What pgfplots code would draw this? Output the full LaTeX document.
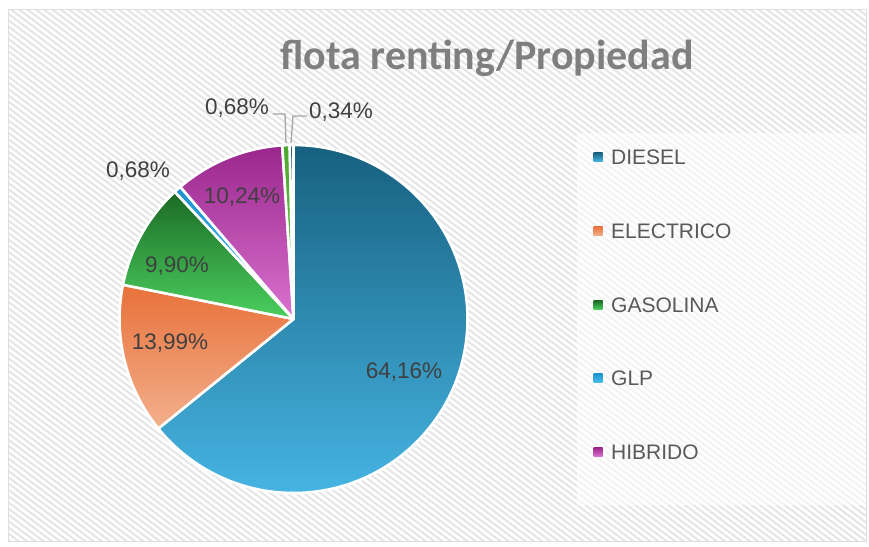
\documentclass[border=0pt]{standalone}
\usepackage{pgfplots}
\pgfplotsset{compat=1.18}
\usepackage{pgfplotstable}
\usetikzlibrary{patterns.meta}
\usepackage{fontspec}
\setmainfont{Liberation Sans}
\newfontfamily\titlefont{Carlito}

% slice colours: top / bottom of the gradient
\definecolor{t0}{HTML}{17607F}\definecolor{b0}{HTML}{46B4E2}
\definecolor{t1}{HTML}{E8713A}\definecolor{b1}{HTML}{F3B08D}
\definecolor{t2}{HTML}{1C6A25}\definecolor{b2}{HTML}{4BD05F}
\definecolor{t3}{HTML}{1C92CF}\definecolor{b3}{HTML}{4DBCEB}
\definecolor{t4}{HTML}{9A268C}\definecolor{b4}{HTML}{DA72D0}
\definecolor{t5}{HTML}{4EA72E}\definecolor{b5}{HTML}{6CC84A}
\definecolor{t6}{HTML}{0E4A66}\definecolor{b6}{HTML}{2A86B0}
\definecolor{lbl}{HTML}{404040}
\definecolor{leg}{HTML}{595959}
\definecolor{ttl}{HTML}{7F7F7F}

% share, label position (px)
\pgfplotstableread{
name      pct    lx   ly   txt
DIESEL    64.16  404  372  {64,16\%}
ELECTRICO 13.99  170  343  {13,99\%}
GASOLINA  9.90   177  266  {9,90\%}
GLP       0.68   138  171  {0,68\%}
HIBRIDO   10.24  242  197  {10,24\%}
OTRO1     0.68   237  108  {0,68\%}
OTRO2     0.34   341  112  {0,34\%}
}\piedata

\def\cx{293.5}\def\cy{319}\def\R{174}

\begin{document}
\begin{tikzpicture}
\begin{axis}[
  x=1pt, y=1pt, xmin=0, xmax=869, ymin=0, ymax=546,
  y dir=reverse, hide axis, clip=false,
]
\pgfplotsextra{
  \fill[white] (axis cs:0,0) rectangle (axis cs:869,546);
  \fill[pattern={Lines[angle=-37,distance=5pt,line width=2pt]}, pattern color=gray!20]
    (axis cs:8,9) rectangle (axis cs:866,541);
  \draw[gray!25, line width=1pt] (axis cs:8,9) rectangle (axis cs:866,541);
  \fill[white, fill opacity=0.55] (axis cs:577,133) rectangle (axis cs:866,505);
  % slices
  \gdef\cum{0}
  \foreach \i in {0,...,6}{
    \pgfplotstablegetelem{\i}{pct}\of\piedata
    \let\p\pgfplotsretval
    \pgfmathsetmacro\sa{90-3.6*\cum}
    \pgfmathsetmacro\ea{90-3.6*(\cum+\p)}
    \pgfmathsetmacro\nc{\cum+\p}\xdef\cum{\nc}
    \pgfmathsetmacro\px{\cx+\R*cos(\sa)}
    \pgfmathsetmacro\py{\cy-\R*sin(\sa)}
    \shadedraw[top color=t\i, bottom color=b\i, draw=white, line width=2.6pt, line join=round]
      (axis cs:\cx,\cy) -- (axis cs:\px,\py) arc[start angle=\sa, end angle=\ea, radius=\R pt] -- cycle;
  }
  % leader lines
  \draw[gray!70, line width=1.3pt] (axis cs:273,114) -- (axis cs:285,114) -- (axis cs:286,143);
  \draw[gray!70, line width=1.3pt] (axis cs:307,116) -- (axis cs:293,116) -- (axis cs:291,143);
  % labels
  \foreach \i in {0,...,6}{
    \pgfplotstablegetelem{\i}{lx}\of\piedata\let\lx\pgfplotsretval
    \pgfplotstablegetelem{\i}{ly}\of\piedata\let\ly\pgfplotsretval
    \pgfplotstablegetelem{\i}{txt}\of\piedata\let\tx\pgfplotsretval
    \node[text=lbl, font=\fontsize{22.5}{26}\selectfont] at (axis cs:\lx,\ly) {\tx};
  }
  % legend
  \foreach \i/\yy in {0/157,1/231,2/305,3/378,4/452}{
    \pgfplotstablegetelem{\i}{name}\of\piedata\let\nm\pgfplotsretval
    \shade[top color=t\i, bottom color=b\i] (axis cs:593.5,\yy-4.5) rectangle (axis cs:602.5,\yy+4.5);
    \node[anchor=west, text=leg, font=\fontsize{21}{24}\selectfont, inner sep=0pt] at (axis cs:611,\yy) {\nm};
  }
  % title
  \node[text=ttl, font=\titlefont\bfseries\fontsize{42}{46}\selectfont] at (axis cs:487,58) {flota renting/Propiedad};
}
\end{axis}
\end{tikzpicture}
\end{document}
